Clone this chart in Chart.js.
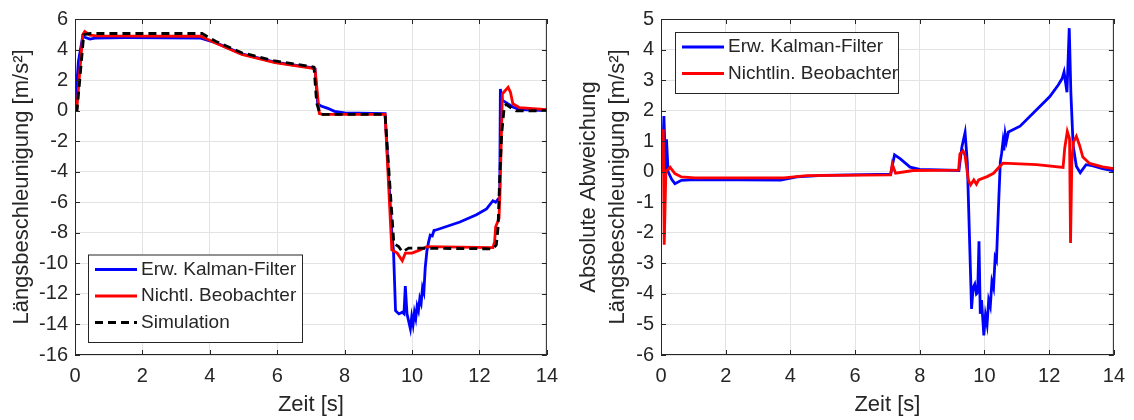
<!DOCTYPE html>
<html>
<head>
<meta charset="utf-8">
<script src="https://cdn.jsdelivr.net/npm/chart.js@4.4.1/dist/chart.umd.min.js"></script>
<style>
  body { margin: 0; background: #fff; }
  .wrap { position: absolute; top: 0; width: 567px; height: 420px; }
</style>
</head>
<body>
<div class="wrap" style="left:0"><canvas id="accel" width="567" height="420"></canvas></div>
<div class="wrap" style="left:567px"><canvas id="dev" width="567" height="420"></canvas></div>
<script>
// left panel: longitudinal acceleration
const simTime  = [0, 0.06, 0.26, 0.45, 3.77, 4.17, 4.95, 5.93, 6.91, 7.09, 7.17, 7.27, 9.2, 9.46, 9.6, 9.71, 9.9, 12.4, 12.5, 12.55, 12.6, 12.66, 12.74, 12.8, 12.95, 13.09, 14];
const simAccel = [0, 0, 4.97, 5.05, 5.05, 4.54, 3.79, 3.25, 2.92, 2.85, 0.5, -0.25, -0.25, -8.7, -8.9, -9.25, -9.0, -9.05, -8.8, -7.7, -4.4, -1.5, 0.34, 0.4, 0.15, -0.02, 0];

const ekfTime  = [0, 0.02, 0.1, 0.23, 0.29, 0.44, 0.59, 1.5, 3.73, 4.17, 4.95, 5.93, 7.06, 7.12, 7.2, 7.3, 7.5, 7.7, 8.0, 9.2, 9.4, 9.45, 9.51, 9.61, 9.71, 9.76, 9.8, 9.85, 9.95, 9.99, 10.03, 10.07, 10.11, 10.15, 10.19, 10.23, 10.27, 10.31, 10.35, 10.39, 10.44, 10.49, 10.54, 10.6, 10.65, 10.69, 11.42, 11.91, 12.21, 12.4, 12.48, 12.55, 12.6, 12.62, 12.68, 12.77, 12.99, 13.19, 14];
const ekfAccel = [0, 0, 3.2, 4.87, 4.8, 4.69, 4.75, 4.78, 4.75, 4.45, 3.72, 3.18, 2.8, 2.75, 0.45, 0.3, 0.15, -0.05, -0.15, -0.2, -8.0, -9.2, -13.1, -13.31, -13.2, -13.3, -11.48, -13.3, -14.28, -13.5, -14.0, -13.2, -13.6, -12.8, -13.1, -12.3, -12.6, -11.6, -11.9, -10.3, -9.2, -8.6, -8.15, -8.2, -7.85, -7.83, -7.29, -6.82, -6.43, -5.9, -6.0, -5.8, -5.9, 1.42, 0.67, 0.56, 0.24, 0.06, 0];

const nlTime  = [0, 0.05, 0.23, 0.29, 0.44, 0.64, 3.73, 4.17, 4.95, 5.93, 7.06, 7.12, 7.25, 7.35, 9.2, 9.4, 9.56, 9.71, 9.8, 10.0, 10.24, 10.44, 12.4, 12.45, 12.48, 12.58, 12.62, 12.68, 12.85, 12.92, 12.99, 13.19, 14];
const nlAccel = [0, 0, 4.97, 5.18, 4.95, 4.9, 4.87, 4.43, 3.68, 3.14, 2.77, 2.72, -0.2, -0.25, -0.25, -9.12, -9.33, -9.83, -9.33, -9.33, -9.12, -8.9, -8.97, -8.58, -7.6, -7.07, -4.4, 1.1, 1.53, 1.2, 0.45, 0.19, 0.06];

// right panel: absolute deviation
const ekfDevTime = [0, 0.05, 0.09, 0.12, 0.14, 0.17, 0.22, 0.33, 0.43, 0.63, 1.04, 3.7, 4.2, 5.0, 7.1, 7.15, 7.22, 7.4, 7.7, 8.0, 9.21, 9.3, 9.4, 9.47, 9.6, 9.65, 9.7, 9.75, 9.79, 9.83, 9.87, 9.91, 9.98, 10.03, 10.08, 10.13, 10.18, 10.23, 10.28, 10.33, 10.37, 10.44, 10.49, 10.53, 10.57, 10.6, 10.64, 10.68, 10.74, 11.1, 11.61, 12.02, 12.28, 12.4, 12.46, 12.55, 12.62, 12.67, 12.74, 12.84, 12.96, 13.14, 13.33, 13.65, 14];
const ekfDev     = [0, 0.5, 1.82, 0.8, 0, 1.06, 0, -0.25, -0.39, -0.28, -0.26, -0.27, -0.17, -0.12, -0.08, 0.2, 0.55, 0.42, 0.15, 0.08, 0.04, 0.8, 1.28, 0.3, -4.49, -3.79, -3.68, -4.0, -3.95, -2.28, -4.65, -4.2, -5.36, -4.7, -5.0, -4.2, -4.4, -3.6, -3.8, -2.8, -2.9, -0.96, 0.33, 0.6, 0.97, 0.7, 1.24, 1.0, 1.3, 1.49, 2.03, 2.46, 2.84, 3.05, 3.27, 2.6, 4.7, 2.6, 0.86, 0.18, -0.03, 0.23, 0.2, 0.1, 0.03];

const nlDevTime = [0, 0.05, 0.07, 0.1, 0.15, 0.28, 0.43, 0.63, 1.04, 3.8, 4.5, 7.1, 7.15, 7.25, 7.8, 9.2, 9.24, 9.34, 9.4, 9.5, 9.57, 9.67, 9.75, 9.82, 10.08, 10.28, 10.44, 10.57, 11.61, 12.43, 12.48, 12.56, 12.63, 12.66, 12.7, 12.75, 12.84, 12.94, 13.04, 13.25, 13.65, 14];
const nlDev     = [0, 0.3, 1.39, -2.39, 0, 0.15, -0.06, -0.17, -0.2, -0.2, -0.13, -0.1, 0.25, -0.05, 0.04, 0.05, 0.58, 0.68, 0.52, -0.27, -0.43, -0.27, -0.41, -0.27, -0.16, -0.05, 0.14, 0.28, 0.23, 0.14, 0.77, 1.32, 1.08, -2.33, 0.33, 0.97, 1.16, 0.86, 0.48, 0.27, 0.16, 0.1];

const xTicks = [0, 2, 4, 6, 8, 10, 12, 14];

const TXT = '#262626';
const FONT = "'Liberation Sans', Arial, sans-serif";
Chart.defaults.font.family = FONT;
Chart.defaults.color = TXT;

const pts = (t, v) => t.map((x, i) => ({ x: x, y: v[i] }));

// axes box with inward ticks, matlab style
const boxPlugin = {
  id: 'box',
  afterDatasetsDraw(chart) {
    const { ctx, chartArea: a, scales } = chart;
    ctx.save();
    ctx.strokeStyle = TXT;
    ctx.lineWidth = 1;
    ctx.strokeRect(a.left + 0.5, a.top + 0.5, a.right - a.left - 1, a.bottom - a.top - 1);
    ctx.beginPath();
    scales.x.ticks.forEach(t => {
      const px = Math.round(scales.x.getPixelForValue(t.value)) + 0.5;
      ctx.moveTo(px, a.bottom); ctx.lineTo(px, a.bottom - 5);
      ctx.moveTo(px, a.top); ctx.lineTo(px, a.top + 5);
    });
    scales.y.ticks.forEach(t => {
      const py = Math.round(scales.y.getPixelForValue(t.value)) + 0.5;
      ctx.moveTo(a.left, py); ctx.lineTo(a.left + 5, py);
      ctx.moveTo(a.right, py); ctx.lineTo(a.right - 5, py);
    });
    ctx.stroke();
    ctx.restore();
  }
};

// legend drawn inside the plot area
const boxLegend = {
  id: 'boxLegend',
  afterDraw(chart, args, opts) {
    const { ctx, chartArea: a } = chart;
    const items = chart.data.datasets;
    const rowH = 26.5;
    const w = opts.width, h = items.length * rowH + 8;
    const x0 = a.left + opts.dx;
    const y0 = opts.anchor === 'bottom' ? a.bottom - opts.dy - h : a.top + opts.dy;
    ctx.save();
    ctx.fillStyle = '#fff';
    ctx.fillRect(x0, y0, w, h);
    ctx.strokeStyle = TXT;
    ctx.lineWidth = 1;
    ctx.strokeRect(x0 + 0.5, y0 + 0.5, w, h);
    ctx.font = '19px ' + FONT;
    ctx.textBaseline = 'middle';
    items.forEach((ds, i) => {
      const cy = y0 + 15 + i * rowH;
      ctx.strokeStyle = ds.borderColor;
      ctx.lineWidth = 2.8;
      ctx.setLineDash(ds.borderDash || []);
      ctx.beginPath();
      ctx.moveTo(x0 + 7, cy); ctx.lineTo(x0 + 49, cy);
      ctx.stroke();
      ctx.setLineDash([]);
      ctx.fillStyle = TXT;
      ctx.fillText(ds.label, x0 + 53, cy);
    });
    ctx.restore();
  }
};

function makeChart(id, datasets, yMin, yMax, yStep, yTitle, yWidth, legendOpts) {
  return new Chart(document.getElementById(id), {
    type: 'line',
    data: { datasets: datasets },
    options: {
      responsive: false,
      animation: false,
      events: [],
      layout: { padding: { top: 14, right: 15, left: 0, bottom: 0 } },
      elements: { point: { radius: 0 }, line: { borderWidth: 2.8, tension: 0 } },
      plugins: { legend: { display: false }, tooltip: { enabled: false }, boxLegend: legendOpts },
      scales: {
        x: {
          type: 'linear', min: 0, max: 14,
          afterBuildTicks: s => { s.ticks = xTicks.map(v => ({ value: v })); },
          ticks: { font: { size: 20 }, padding: 9, maxRotation: 0 },
          grid: { color: '#e3e3e3', drawTicks: false },
          border: { display: false },
          title: { display: true, text: 'Zeit [s]', font: { size: 22, lineHeight: 1.32 }, padding: { bottom: 0.5 } },
          afterFit: s => { s.height = 65; }
        },
        y: {
          min: yMin, max: yMax,
          ticks: { stepSize: yStep, font: { size: 20 }, padding: 7 },
          grid: { color: '#e3e3e3', drawTicks: false },
          border: { display: false },
          title: { display: true, text: yTitle, font: { size: 22, lineHeight: 1.32 }, padding: { top: 7 } },
          afterFit: s => { s.width = yWidth; }
        }
      }
    },
    plugins: [boxPlugin, boxLegend]
  });
}

makeChart('accel', [
  { label: 'Erw. Kalman-Filter', data: pts(ekfTime, ekfAccel), borderColor: '#0000ff', order: 3 },
  { label: 'Nichtl. Beobachter', data: pts(nlTime, nlAccel), borderColor: '#ff0000', order: 2 },
  { label: 'Simulation', data: pts(simTime, simAccel), borderColor: '#000000', borderDash: [8, 5], order: 1 }
], -16, 6, 2, 'Längsbeschleunigung [m/s²]', 75, { width: 214, dx: 13, dy: 13, anchor: 'bottom' });

makeChart('dev', [
  { label: 'Erw. Kalman-Filter', data: pts(ekfDevTime, ekfDev), borderColor: '#0000ff', order: 2 },
  { label: 'Nichtlin. Beobachter', data: pts(nlDevTime, nlDev), borderColor: '#ff0000', order: 1 }
], -6, 5, 1, ['Absolute Abweichung', 'Längsbeschleunigung [m/s²]'], 94, { width: 223, dx: 14, dy: 13, anchor: 'top' });
</script>
</body>
</html>
